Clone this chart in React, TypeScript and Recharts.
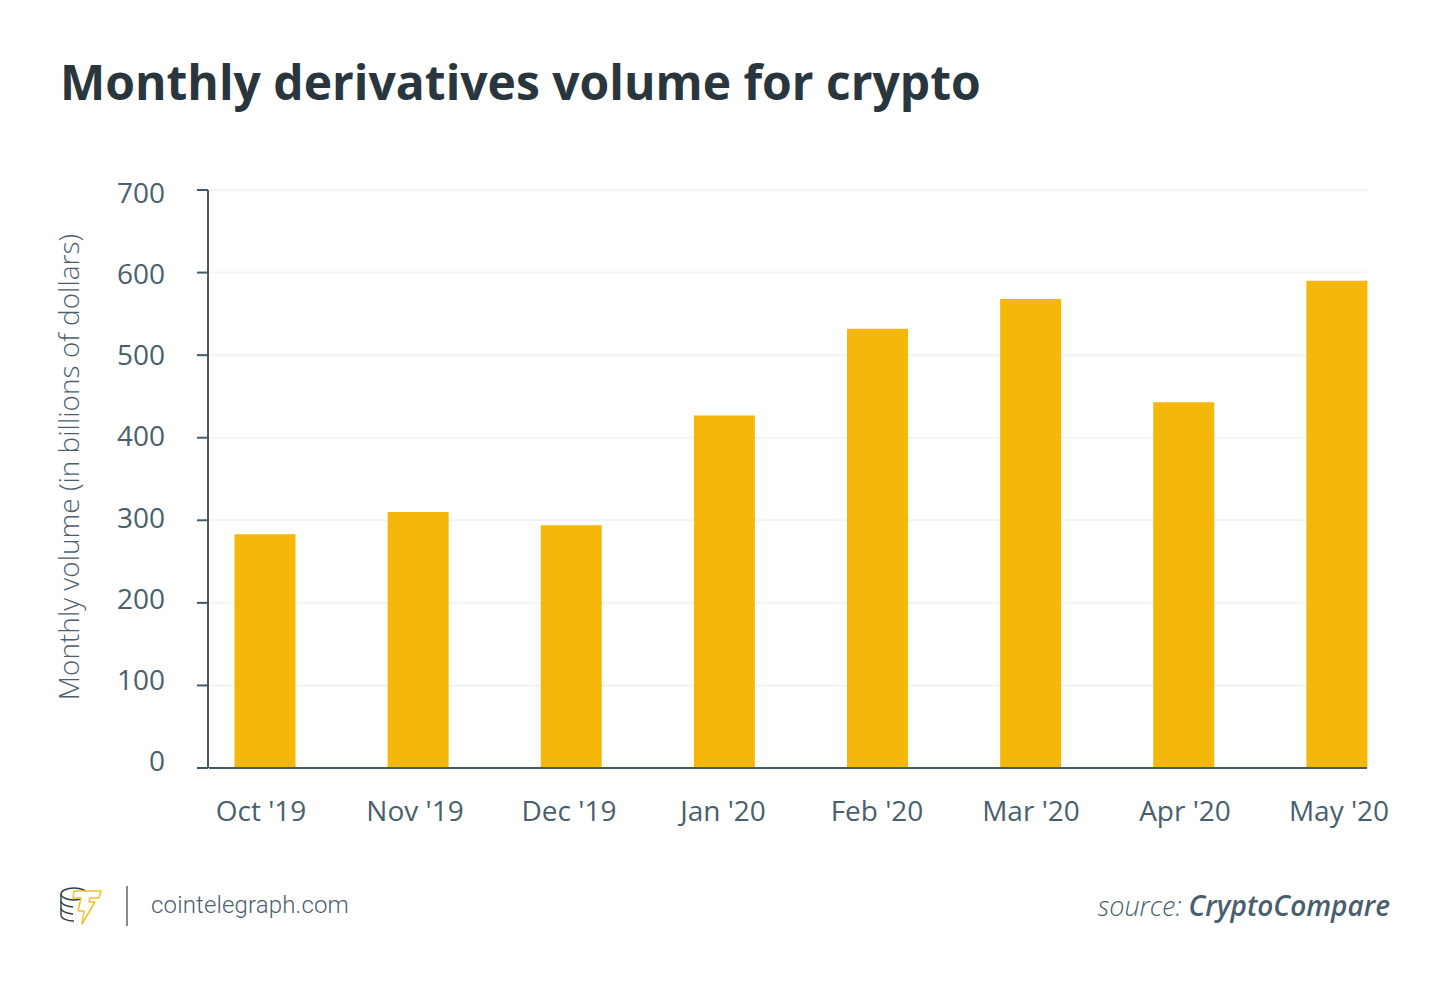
import React from "react";
import { BarChart, Bar, XAxis, YAxis, CartesianGrid, Label } from "recharts";

const months = ["Oct '19", "Nov '19", "Dec '19", "Jan '20", "Feb '20", "Mar '20", "Apr '20", "May '20"];
const volumes = [283, 310, 294, 427, 532, 568, 443, 590];
const yTicks = [0, 100, 200, 300, 400, 500, 600, 700];

const rows = months.map((month, i) => ({ month, volume: volumes[i] }));
const INK = "#455a68";
const TEXT = "#4a5f6e";
const FONT = "'Open Sans', sans-serif";
const tickStyle = { fontFamily: FONT, fontSize: 28, fill: TEXT };

function Logo() {
  return (
    <svg width="46" height="42" viewBox="0 0 46 42" style={{ position: "absolute", left: 58, top: 884 }} fill="none">
      <g stroke="#2f3d47" strokeWidth="1.4">
        <ellipse cx="16" cy="10" rx="13" ry="6" />
        <path d="M3 10v21c0 3.5 6 6 13 6" />
        <path d="M3 17c0 3 5 5.5 12 6" />
        <path d="M3 24c0 3 5 5.5 12 6" />
        <path d="M29 10v2" />
      </g>
      <path d="M16 7h27l-2 7h-9l-1 4h6L24 40l2-13h-6l3-13h-8z" fill="#fff" stroke="#f5c02a" strokeWidth="1.5" strokeLinejoin="round" />
    </svg>
  );
}

export default function App() {
  return (
    <div style={{ position: "absolute", left: 0, top: 0, width: 1450, height: 986, background: "#fff", overflow: "hidden" }}>
      <div style={{ position: "absolute", left: 60, top: 48, fontFamily: FONT, fontWeight: 700, fontSize: 48, lineHeight: "68px", color: "#29363e", whiteSpace: "nowrap" }}>
        Monthly derivatives volume for crypto
      </div>
      <BarChart width={1450} height={986} data={rows} margin={{ top: 190, right: 83, bottom: 217, left: 207 }} barSize={61}>
        <CartesianGrid horizontal vertical={false} stroke="#f3f3f3" strokeWidth={2} yAxisId="main" xAxisId="bars" />
        <XAxis xAxisId="bars" dataKey="month" hide height={0} padding={{ left: -20.5, right: -46.5 }} />
        <XAxis xAxisId="labels" dataKey="month" height={1} padding={{ left: -25, right: -49 }} tickLine={false} axisLine={{ stroke: INK, strokeWidth: 2 }} tick={tickStyle} tickMargin={27} interval={0} />
        <YAxis yAxisId="labels" width={1} domain={[0, 700]} allowDataOverflow ticks={yTicks} interval={0} padding={{ top: 3, bottom: 7 }} tickLine={false} axisLine={false} tick={tickStyle} tickMargin={38} />
        <YAxis yAxisId="main" width={1} domain={[0, 700]} ticks={yTicks} interval={0} tickSize={11} tickFormatter={() => ""} tickLine={{ stroke: INK, strokeWidth: 2 }} axisLine={{ stroke: INK, strokeWidth: 2 }}>
          <Label value="Monthly volume (in billions of dollars)" angle={-90} position="center" dx={-138} dy={-12} style={{ fontFamily: FONT, fontWeight: 300, fontSize: 28, fill: TEXT }} />
        </YAxis>
        <Bar dataKey="volume" xAxisId="bars" yAxisId="main" fill="#f5b70a" isAnimationActive={false} />
      </BarChart>
      <Logo />
      <div style={{ position: "absolute", left: 126, top: 886, width: 2, height: 40, background: "#8a8a8a" }} />
      <div style={{ position: "absolute", left: 151, top: 889, fontFamily: "Roboto, sans-serif", fontWeight: 300, fontSize: 24, lineHeight: "32px", letterSpacing: 0.15, color: TEXT, whiteSpace: "nowrap" }}>
        cointelegraph.com
      </div>
      <div style={{ position: "absolute", right: 60, top: 886, fontFamily: FONT, fontStyle: "italic", fontSize: 28, lineHeight: "38px", color: TEXT, whiteSpace: "nowrap" }}>
        <span style={{ fontWeight: 300, fontSize: 27 }}>source: </span>
        <span style={{ fontWeight: 600 }}>CryptoCompare</span>
      </div>
    </div>
  );
}
